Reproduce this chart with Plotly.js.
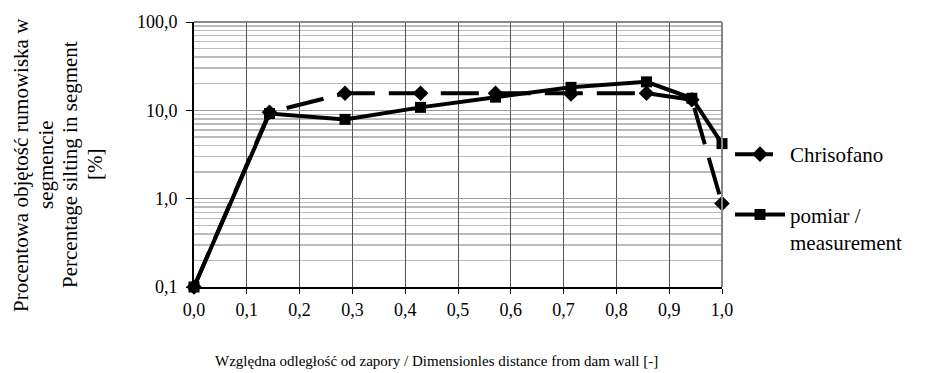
<!DOCTYPE html>
<html>
<head>
<meta charset="utf-8">
<script src="https://cdn.plot.ly/plotly-3.0.1.min.js"></script>
<style>html,body{margin:0;padding:0;background:#fff;}#chart{width:932px;height:373px;}</style>
</head>
<body>
<div id="chart"></div>
<script>
// Data
const distance = [0.0, 0.143, 0.286, 0.429, 0.571, 0.714, 0.857, 0.943, 1.0];
const chrisofano = [0.1, 9.5, 15.6, 15.6, 15.6, 15.3, 15.6, 13.2, 0.88];
const measurement = [0.1, 9.2, 7.9, 10.8, 14.1, 18.2, 21.0, 13.7, 4.2];
const xTicks = [0, 0.1, 0.2, 0.3, 0.4, 0.5, 0.6, 0.7, 0.8, 0.9, 1.0];
const yTicks = [0.1, 1, 10, 100];
const yMinor = [0.2,0.3,0.4,0.5,0.6,0.7,0.8,0.9,2,3,4,5,6,7,8,9,20,30,40,50,60,70,80,90];
const seriesNames = ['Chrisofano', 'pomiar /<br>measurement'];
const xTitle = 'Względna odległość od zapory / Dimensionles distance from dam wall [-]';
const yTitleLines = ['Procentowa objętość rumowiska w', 'segmencie', 'Percentage silting in segment', '[%]'];

const FONT = '"Liberation Serif", "Times New Roman", serif';

// plot area in pixels
const PL = 194, PR = 722, PT = 22, PB = 287;
const PW = PR - PL, PH = PB - PT;
const px = v => (v - PL) / PW;
const py = v => (PB - v) / PH;

const traces = [
  {
    x: distance, y: chrisofano, name: seriesNames[0], type: 'scatter', mode: 'lines+markers',
    line: {color: '#000', width: 4, dash: '38px,14px'},
    marker: {symbol: 'diamond', size: 12, color: '#000'},
    cliponaxis: false, legendgroup: 'a'
  },
  {
    x: distance, y: measurement, name: seriesNames[1], type: 'scatter', mode: 'lines+markers',
    line: {color: '#000', width: 4},
    marker: {symbol: 'square', size: 11, color: '#000'},
    cliponaxis: false, legendgroup: 'b'
  }
];

const yTitleX = [21, 46, 70, 95];
const annotations = [
  {text: xTitle, xref: 'paper', yref: 'paper', x: px(436), y: py(361),
   xanchor: 'center', yanchor: 'middle', showarrow: false, font: {family: FONT, size: 15, color: '#000'}}
];
yTitleLines.forEach((t, i) => {
  annotations.push({text: t, xref: 'paper', yref: 'paper', x: px(yTitleX[i]), y: py(165),
    xanchor: 'center', yanchor: 'middle', textangle: -90, showarrow: false,
    font: {family: FONT, size: 21, color: '#000'}});
});

const layout = {
  width: 932, height: 373,
  margin: {l: PL, r: 932 - PR, t: PT, b: 373 - PB},
  paper_bgcolor: '#fff', plot_bgcolor: '#fff',
  separators: ', ',
  font: {family: FONT, size: 18, color: '#000'},
  showlegend: true,
  legend: {
    x: px(730), xanchor: 'left', y: py(134), yanchor: 'top',
    font: {family: FONT, size: 21, color: '#000'},
    traceorder: 'grouped', tracegroupgap: 30, valign: 'top',
    itemwidth: 50,
    bgcolor: 'rgba(0,0,0,0)'
  },
  xaxis: {
    range: [0, 1], tickvals: xTicks, tickformat: '.1f',
    ticks: 'outside', ticklen: 5, tickcolor: '#000', ticklabelstandoff: 0,
    showline: true, linecolor: '#000', linewidth: 2, mirror: false,
    showgrid: true, gridcolor: '#555', gridwidth: 1,
    zeroline: false,
    tickfont: {family: FONT, size: 18, color: '#000'}
  },
  yaxis: {
    type: 'log', range: [-1, 2], tickvals: yTicks, tickformat: '.1f',
    ticks: 'outside', ticklen: 6, tickcolor: '#000', ticklabelstandoff: 5,
    showline: true, linecolor: '#000', linewidth: 2,
    showgrid: true, gridcolor: '#999', gridwidth: 1.5,
    zeroline: false,
    minor: {tickvals: yMinor, showgrid: true, gridcolor: '#bbb', gridwidth: 1.5, ticks: ''},
    tickfont: {family: FONT, size: 18, color: '#000'}
  },
  shapes: [
    {type: 'line', xref: 'paper', yref: 'paper', x0: 0, x1: 1, y0: 1, y1: 1, line: {color: '#888', width: 2}},
    {type: 'line', xref: 'paper', yref: 'paper', x0: 1, x1: 1, y0: 0, y1: 1, line: {color: '#888', width: 2}}
  ],
  annotations: annotations
};

Plotly.newPlot('chart', traces, layout, {displayModeBar: false, staticPlot: true});
</script>
</body>
</html>
